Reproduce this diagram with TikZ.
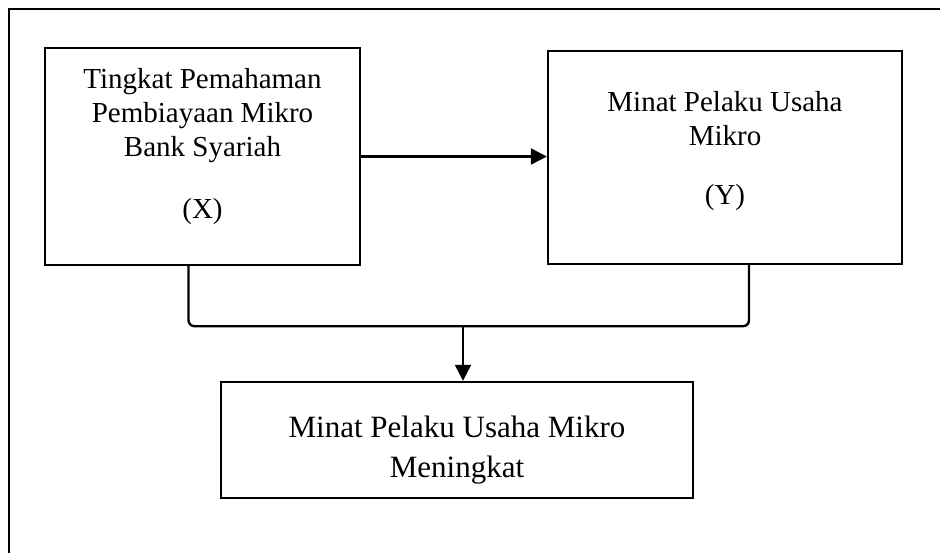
\documentclass[tikz,border=0pt]{standalone}
\usepackage{fontspec}
\setmainfont{Liberation Serif}
\usetikzlibrary{arrows.meta,positioning}
\begin{document}
\begin{tikzpicture}[x=0.5pt, y=-0.5pt,
    box/.style={rectangle, draw=black, line width=1.2pt, inner sep=0pt},
    txt/.style={align=center, inner sep=0pt, anchor=north,
        font=\fontsize{14.5}{17}\selectfont},
    link/.style={line width=1.2pt, -{Triangle[length=8pt,width=8pt]}}
]
    \useasboundingbox (0,0) rectangle (940,553);
    % outer frame
    \draw[line width=1.2pt] (9,553) -- (9,9) -- (940,9);
    % boxes
    \node[box, minimum width=157.5pt, minimum height=108.5pt] (x) at (202.5,156.5) {};
    \node[box, minimum width=177pt, minimum height=106.5pt] (y) at (725,157.5) {};
    \node[box, minimum width=236pt, minimum height=58pt] (z) at (457,440) {};
    % texts
    \node[txt] (xt) at (202.5,68) {Tingkat Pemahaman\\Pembiayaan Mikro\\Bank Syariah\\[14pt](X)};
    \node[txt] (yt) at (725,91) {Minat Pelaku Usaha\\Mikro\\[12.5pt](Y)};
    \node[txt, font=\fontsize{15.5}{20}\selectfont] (zt) at (457,416) {Minat Pelaku Usaha Mikro\\Meningkat};
    % connectors
    \draw[link] (x.east) -- (y.west |- x.east);
    \draw[line width=1.2pt, rounded corners=3pt] ([xshift=-7pt]x.south) -- ++(0,60) coordinate (jl)
        -| ([xshift=12pt]y.south);
    \coordinate (j) at (463,325);
    \draw[link] (j) -- (j |- z.north);
\end{tikzpicture}
\end{document}
